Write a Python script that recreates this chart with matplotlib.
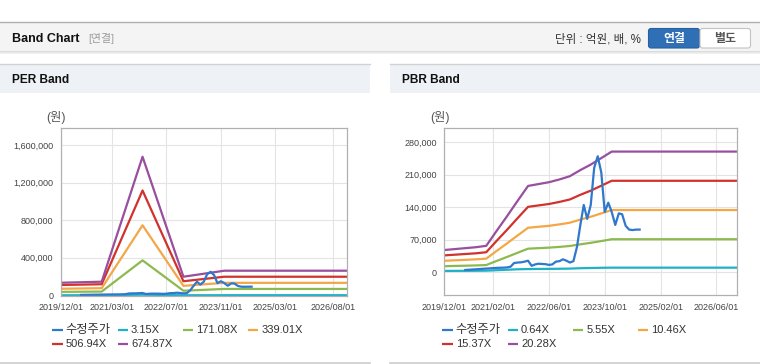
import matplotlib
matplotlib.use('Agg')
import matplotlib.pyplot as plt
from matplotlib.patches import Rectangle, FancyBboxPatch
from matplotlib.ticker import FuncFormatter
import pandas as pd

plt.rcParams['font.family'] = ['Liberation Sans', 'Noto Sans CJK KR', 'DejaVu Sans']

# ---------------- data ----------------
price_start = '2020-06-01'
price = [5000, 5500, 6000, 6500, 7000, 7500, 8000, 8500, 9000, 9500, 9800, 10000,
         10500, 12000, 20000, 21000, 21500, 23000, 25000, 14000, 17000, 18500, 18000,
         17500, 16000, 17000, 23000, 24000, 28000, 25000, 21000, 24000, 55000, 100000,
         145000, 115000, 145000, 225000, 250000, 215000, 130000, 150000, 130000, 102000,
         127000, 125000, 100000, 92000, 91000, 92000, 92000]

per_dates = ['2019-12-01', '2020-12-01', '2021-12-01', '2022-12-01', '2023-12-01', '2026-12-01']
per_labels = ['3.15X', '171.08X', '339.01X', '506.94X', '674.87X']
per_band1 = [1000, 1000, 7000, 1000, 1500, 1500]
per_band2 = [37000, 40000, 372000, 49000, 68000, 68000]
per_band3 = [70000, 76000, 745000, 101000, 133000, 133000]
per_band4 = [110000, 118000, 1115000, 150000, 198000, 198000]
per_band5 = [134000, 145000, 1474000, 198000, 262000, 262000]

pbr_dates = ['2019-12-01', '2020-03-01', '2020-06-01', '2020-09-01', '2020-12-01',
             '2021-03-01', '2021-06-01', '2021-09-01', '2021-12-01', '2022-03-01',
             '2022-06-01', '2022-09-01', '2022-12-01', '2023-03-01', '2023-06-01',
             '2023-09-01', '2023-12-01', '2026-12-01']
pbr_labels = ['0.64X', '5.55X', '10.46X', '15.37X', '20.28X']
pbr_band1 = [3000, 3100, 3200, 3300, 3500, 4500, 5500, 6500, 7000, 7200, 7400, 7600,
             8000, 8800, 9300, 9700, 10000, 10000]
pbr_band2 = [13100, 13700, 14200, 14800, 15600, 24400, 33100, 42100, 50900, 52000,
             53100, 54700, 56700, 60200, 63500, 67300, 71200, 71200]
pbr_band3 = [24800, 25800, 26800, 27900, 29400, 45900, 62400, 79400, 95900, 98000,
             100100, 103200, 106800, 113500, 119700, 126900, 134100, 134100]
pbr_band4 = [36400, 37900, 39400, 40900, 43200, 67500, 91700, 116700, 141000, 144000,
             147100, 151600, 156900, 166800, 175900, 186500, 197100, 197100]
pbr_band5 = [48000, 50000, 52000, 54000, 57000, 89000, 121000, 154000, 186000, 190000,
             194000, 200000, 207000, 220000, 232000, 246000, 260000, 260000]

per_xticks = ['2019-12-01', '2021-03-01', '2022-07-01', '2023-11-01', '2025-03-01', '2026-08-01']
pbr_xticks = ['2019-12-01', '2021-02-01', '2022-06-01', '2023-10-01', '2025-02-01', '2026-06-01']
per_yticks = [0, 400000, 800000, 1200000, 1600000]
pbr_yticks = [0, 70000, 140000, 210000, 280000]

price_label = '수정주가'
band_colors = ['#1fb1c6', '#8cba4f', '#f3a747', '#d0322d', '#974f9e']
price_color = '#2f78cc'

# ---------------- figure ----------------
W, H = 760, 364
fig = plt.figure(figsize=(W / 100, H / 100), dpi=100)
bg = fig.add_axes([0, 0, 1, 1], zorder=0)
bg.set_xlim(0, W)
bg.set_ylim(H, 0)
bg.axis('off')

# top header bar
bg.add_patch(Rectangle((0, 22), 760, 29.5, facecolor='#f4f4f4', edgecolor='none'))
bg.plot([0, 760], [22, 22], color='#b0b0b0', lw=1)
bg.plot([0, 760], [51.8, 51.8], color='#d6d6d6', lw=1.2)
bg.plot([0, 760], [53.2, 53.2], color='#ececec', lw=1.2)
bg.text(12, 39, 'Band Chart', fontsize=9, fontweight='bold', color='#111111', va='center', ha='left')
bg.text(88.5, 39, '[연결]', fontsize=7.8, color='#9a9a9a', va='center', ha='left')
bg.text(641, 39.5, '단위 : 억원, 배, %', fontsize=8.3, color='#333333', va='center', ha='right')
bg.add_patch(FancyBboxPatch((648.5, 28.5), 51, 19.5, boxstyle='round,pad=0,rounding_size=2.5',
                            facecolor='#2f6fb6', edgecolor='#2a5f9e', lw=0.8))
bg.add_patch(FancyBboxPatch((700, 28.5), 50.5, 19.5, boxstyle='round,pad=0,rounding_size=2.5',
                            facecolor='#ffffff', edgecolor='#c3c3c3', lw=0.8))
bg.text(674, 38.6, '연결', fontsize=8.6, fontweight='bold', color='white', va='center', ha='center')
bg.text(725, 38.6, '별도', fontsize=8.6, fontweight='bold', color='#555555', va='center', ha='center')

# panels
for x0, title in [(0, 'PER Band'), (390, 'PBR Band')]:
    bg.add_patch(Rectangle((x0, 64), 370, 28.5, facecolor='#eef2f7', edgecolor='none'))
    bg.plot([x0, x0 + 370], [64, 64], color='#d2d2d2', lw=1)
    bg.plot([x0, x0 + 370], [362.5, 362.5], color='#cccccc', lw=1.2)
    bg.text(x0 + 11.5, 80, title, fontsize=8.6, fontweight='bold', color='#111111', va='center', ha='left')


def make_chart(rect, dates, bands, labels, xticks, yticks, ylim, ylabel_x, leg_x0):
    l, t, r, b = rect
    ax = fig.add_axes([l / W, 1 - b / H, (r - l) / W, (b - t) / H], zorder=2)
    ax.set_facecolor('none')
    d = pd.to_datetime(dates)
    for vals, c in zip(bands, band_colors):
        ax.plot(d, vals, color=c, lw=1.6, solid_joinstyle='round')
    pd_dates = pd.date_range(price_start, periods=len(price), freq='MS')
    ax.plot(pd_dates, price, color=price_color, lw=1.6, solid_joinstyle='round')
    ax.set_xlim(pd.Timestamp('2019-12-01'), pd.Timestamp('2026-12-01'))
    ax.set_ylim(*ylim)
    ax.set_xticks(pd.to_datetime(xticks))
    ax.set_xticklabels([s.replace('-', '/') for s in xticks])
    ax.set_yticks(yticks)
    ax.yaxis.set_major_formatter(FuncFormatter(lambda v, p: f'{int(v):,}'))
    ax.tick_params(length=0, labelsize=6.5, labelcolor='#444444', pad=5.3)
    ax.grid(True, color='#e4e4e4', lw=0.8)
    ax.set_axisbelow(True)
    for s in ax.spines.values():
        s.set_color('#b0b0b0')
        s.set_linewidth(0.9)
    bg.text(ylabel_x, 117, '(원)', fontsize=8.8, color='#555555', ha='center', va='center')
    # legend
    names = [price_label] + labels
    cols = [price_color] + band_colors
    for i, (n, c) in enumerate(zip(names, cols)):
        row, col = divmod(i, 4)
        x = leg_x0 + col * 65.2
        y = 330 + row * 13.8
        bg.plot([x, x + 10.5], [y, y], color=c, lw=1.6, solid_capstyle='butt')
        fs = 8.8 if i == 0 else 8.0
        bg.text(x + 13.5, y + 0.3, n, fontsize=fs, color='#333333', va='center', ha='left')
    return ax


make_chart((60.7, 128, 347, 296), per_dates,
           [per_band1, per_band2, per_band3, per_band4, per_band5], per_labels,
           per_xticks, per_yticks, (-7000, 1779600), 56, 52.3)
make_chart((444.3, 128.3, 737.3, 295.3), pbr_dates,
           [pbr_band1, pbr_band2, pbr_band3, pbr_band4, pbr_band5], pbr_labels,
           pbr_xticks, pbr_yticks, (-49540, 310150), 439.7, 442.3)

fig.savefig('out.png', dpi=100)
